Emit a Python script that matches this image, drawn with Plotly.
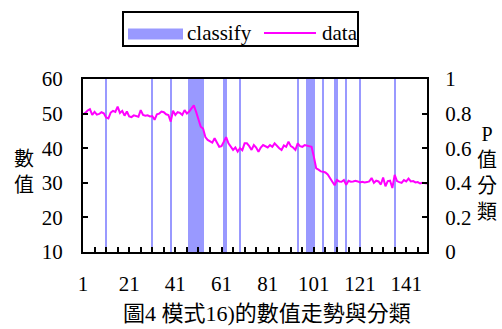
import plotly.graph_objects as go

# ---- data ----
index = list(range(1, 151))
data_values = [
    49.8, 50.2, 50.9, 51.3, 49.6, 50.5, 49.7, 49.9, 50.4, 50.1,
    48.9, 48.6, 50.3, 50.8, 50.5, 52.0, 50.2, 50.8, 49.4, 50.6,
    49.2, 49.0, 49.5, 49.4, 49.1, 51.0, 49.6, 49.4, 49.5, 49.2,
    49.3, 48.2, 49.8, 50.0, 50.6, 50.4, 49.8, 49.6, 47.7, 50.8,
    49.6, 50.4, 50.2, 49.6, 51.0, 50.0, 50.6, 51.5, 52.4, 50.5,
    48.4, 46.2, 45.7, 43.2, 42.4, 42.0, 41.6, 42.9, 41.4, 40.4,
    40.6, 41.8, 43.2, 41.4, 40.6, 39.5, 40.2, 39.0, 40.0, 39.4,
    41.4, 41.4, 40.6, 39.5, 40.9, 40.2, 39.0, 40.2, 40.9, 40.6,
    40.2, 40.9, 40.4, 41.4, 40.6, 40.0, 39.5, 40.8, 40.4, 41.9,
    40.6, 40.2, 39.5, 41.4, 40.6, 40.4, 40.9, 40.8, 40.6, 40.4,
    37.5, 34.2, 33.8, 33.3, 33.2, 33.0, 32.4, 31.5, 30.3, 29.3,
    30.8, 30.4, 30.3, 30.8, 29.4, 30.6, 30.3, 30.4, 30.6, 30.4,
    30.1, 30.3, 30.1, 30.2, 30.4, 31.4, 30.0, 30.6, 30.4, 29.5,
    31.5, 29.0, 30.5, 30.6, 28.5, 32.3, 30.5, 30.2, 30.0, 30.8,
    30.4, 31.2, 30.4, 30.5, 30.1, 30.2, 29.8, 30.0, 29.9, 29.8,
]
classify_x = [11, 31, 39, 47, 48, 49, 50, 51, 52, 53, 62, 63, 69, 94,
              98, 99, 100, 101, 105, 110, 111, 115, 121, 136]
classify_val = [1] * len(classify_x)

left_ticks = [10, 20, 30, 40, 50, 60]
right_ticks = [0, 0.2, 0.4, 0.6, 0.8, 1]
right_tick_text = ["0", "0.2", "0.4", "0.6", "0.8", "1"]

FONT = "Liberation Serif, Times New Roman, Noto Sans CJK TC, serif"
BAR_COLOR = "#9999FF"
LINE_COLOR = "#FF00FF"

# plot area in pixels
PL, PR, PT, PB = 83, 427, 79, 252
PW, PH = PR - PL, PB - PT


def px(x):
    return (x - PL) / PW


def py(y):
    return (PB - y) / PH


fig = go.Figure()
fig.add_trace(go.Bar(
    x=classify_x, y=classify_val, name="classify", yaxis="y",
    width=1.0, marker=dict(color=BAR_COLOR, line=dict(width=0)),
    showlegend=False,
))
fig.add_trace(go.Scatter(
    x=index, y=data_values, name="data", yaxis="y2", mode="lines",
    line=dict(color=LINE_COLOR, width=2), showlegend=False,
))

axis_font = dict(family=FONT, size=21, color="black")

fig.update_layout(
    width=502, height=329,
    margin=dict(l=PL, r=502 - PR, t=PT, b=329 - PB, autoexpand=False),
    paper_bgcolor="white", plot_bgcolor="white",
    font=dict(family=FONT, size=21, color="black"),
    bargap=0,
    xaxis=dict(
        range=[1, 150], tick0=1, dtick=20, ticks="inside", ticklen=5,
        tickwidth=2, tickcolor="black", showline=True, linecolor="black",
        linewidth=2, mirror=True, showgrid=False, zeroline=False,
        ticklabelstandoff=12, automargin=False,
        minor=dict(tick0=1, dtick=5, ticks="inside", ticklen=5,
                   tickwidth=2, tickcolor="black", showgrid=False),
        tickfont=axis_font,
    ),
    yaxis=dict(
        range=[0, 1], side="right", tickvals=right_ticks,
        ticktext=right_tick_text, ticks="inside", ticklen=5, tickwidth=2,
        tickcolor="black", showline=True, linecolor="black", linewidth=2,
        showgrid=False, zeroline=False, ticklabelstandoff=12,
        automargin=False, tickfont=axis_font,
    ),
    yaxis2=dict(
        range=[10, 60], side="left", overlaying="y", tickvals=left_ticks,
        ticks="inside", ticklen=5, tickwidth=2, tickcolor="black",
        showline=True, linecolor="black", linewidth=2, showgrid=False,
        zeroline=False, ticklabelstandoff=14, automargin=False,
        tickfont=axis_font,
    ),
)

# custom legend (wide swatches as in the reference)
fig.add_shape(type="rect", xref="paper", yref="paper",
              x0=px(123), x1=px(358), y0=py(46), y1=py(12),
              line=dict(color="black", width=2), fillcolor="white", layer="above")
fig.add_shape(type="rect", xref="paper", yref="paper",
              x0=px(128), x1=px(183), y0=py(39.5), y1=py(28.5),
              line=dict(width=0), fillcolor=BAR_COLOR, layer="above")
fig.add_shape(type="line", xref="paper", yref="paper",
              x0=px(264), x1=px(316), y0=py(33), y1=py(33),
              line=dict(color=LINE_COLOR, width=2), layer="above")
fig.add_annotation(text="classify", xref="paper", yref="paper",
                   x=px(185), y=py(33), xanchor="left", yanchor="middle",
                   showarrow=False, font=dict(family=FONT, size=21))
fig.add_annotation(text="data", xref="paper", yref="paper",
                   x=px(320), y=py(33), xanchor="left", yanchor="middle",
                   showarrow=False, font=dict(family=FONT, size=21))

# axis titles (stacked vertical text)
fig.add_annotation(text="數<br>值", xref="paper", yref="paper",
                   x=px(24), y=py(172), xanchor="center", yanchor="middle",
                   showarrow=False, font=dict(family=FONT, size=20))
fig.add_annotation(text="P<br>值<br>分<br>類", xref="paper", yref="paper",
                   x=px(487), y=py(173), xanchor="center", yanchor="middle",
                   showarrow=False, font=dict(family=FONT, size=20))

# caption
fig.add_annotation(text="圖4 模式16)的數值走勢與分類", xref="paper", yref="paper",
                   x=px(267), y=py(313), xanchor="center", yanchor="middle",
                   showarrow=False, font=dict(family=FONT, size=22))

fig.write_html(
    "out.html",
    config={"displayModeBar": False},
    post_script="document.body.style.margin='0';document.body.style.padding='0';",
)
